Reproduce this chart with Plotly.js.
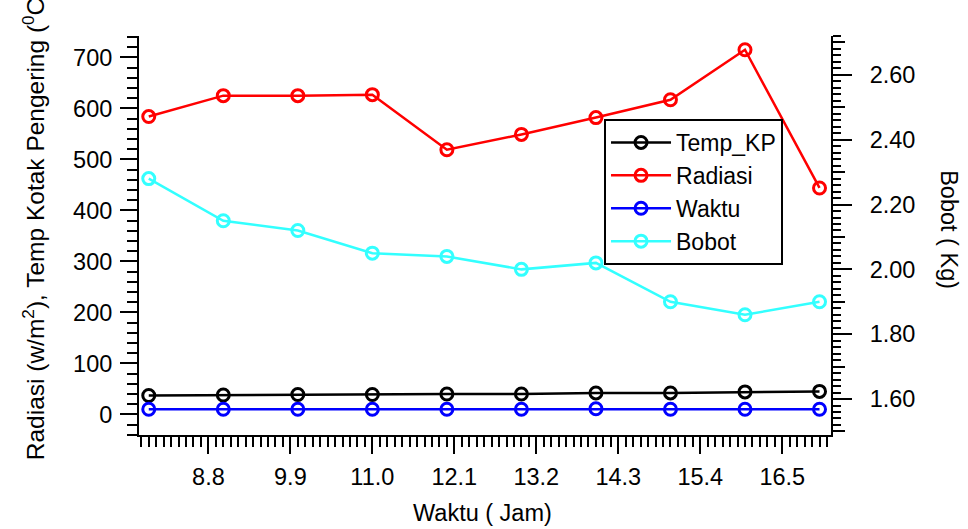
<!DOCTYPE html>
<html>
<head>
<meta charset="utf-8">
<script src="https://cdn.plot.ly/plotly-3.0.1.min.js"></script>
<style>html,body{margin:0;padding:0;background:#fff;}#chart{width:968px;height:529px;}</style>
</head>
<body>
<div id="chart"></div>
<script>
// Data
const waktu = [8, 9, 10, 11, 12, 13, 14, 15, 16, 17];
const tempKP = [37, 38, 39, 39, 40, 40, 42, 42, 44, 45];
const radiasi = [584, 625, 625, 627, 519, 549, 582, 617, 715, 444];
const waktuSeries = [10, 10, 10, 10, 10, 10, 11, 10, 10, 10];
const bobot = [2.28, 2.15, 2.12, 2.05, 2.04, 2.00, 2.02, 1.90, 1.86, 1.90];

const seriesNames = ['Temp_KP', 'Radiasi', 'Waktu', 'Bobot'];
const seriesColors = ['#000000', '#ff0000', '#0000ff', '#33ffff'];

const FONT = 'Liberation Sans, Arial, sans-serif';
const FS = 23.5;

function mk(y, i, axis) {
  return {
    x: waktu, y: y, name: seriesNames[i], yaxis: axis,
    type: 'scatter', mode: 'lines+markers',
    line: {color: seriesColors[i], width: 2.5},
    marker: {symbol: 'circle-open', size: 12, color: seriesColors[i], line: {width: 3, color: seriesColors[i]}},
    cliponaxis: false
  };
}

const traces = [
  mk(tempKP, 0, 'y'),
  mk(radiasi, 1, 'y'),
  mk(waktuSeries, 2, 'y'),
  mk(bobot, 3, 'y2'),
  {x: [], y: [], yaxis: 'y3', showlegend: false, hoverinfo: 'skip', type: 'scatter', mode: 'lines'}
];

const xRange = [7.869, 17.154];
const yRange = [-40.5, 742];
const y2Range = [1.489, 2.72];

const layout = {
  width: 968, height: 529,
  margin: {l: 139, r: 137, t: 36, b: 94, pad: 0},
  paper_bgcolor: '#fff', plot_bgcolor: '#fff',
  font: {family: FONT, size: FS, color: '#000'},
  showlegend: true,
  legend: {
    x: 0.672, y: 0.792, xanchor: 'left', yanchor: 'top',
    bordercolor: '#000', borderwidth: 2, bgcolor: '#fff',
    font: {family: FONT, size: 23, color: '#000'},
    itemwidth: 60, tracegroupgap: 0
  },
  xaxis: {
    range: xRange, tick0: 0, dtick: 1.1, tickformat: '.1f',
    ticks: 'outside', ticklen: 17, tickwidth: 2, tickcolor: '#000',
    showline: true, linewidth: 2, linecolor: '#000', mirror: false,
    showgrid: false, zeroline: false, ticklabelstandoff: 3,
    tickfont: {family: FONT, size: FS, color: '#000'},
    minor: {tick0: 0, dtick: 0.1, ticks: 'outside', ticklen: 10, tickwidth: 2, tickcolor: '#000', showgrid: false}
  },
  yaxis: {
    range: yRange, tick0: 0, dtick: 100,
    ticks: 'outside', ticklen: 17, tickwidth: 2, tickcolor: '#000',
    showline: true, linewidth: 2, linecolor: '#000',
    showgrid: false, zeroline: false, ticklabelstandoff: 3,
    tickfont: {family: FONT, size: FS, color: '#000'},
    minor: {tick0: 0, dtick: 20, ticks: 'outside', ticklen: 10, tickwidth: 2, tickcolor: '#000', showgrid: false}
  },
  yaxis2: {
    overlaying: 'y', side: 'right', anchor: 'x',
    range: y2Range, tick0: 0, dtick: 0.2, tickformat: '.2f',
    ticks: 'outside', ticklen: 19, tickwidth: 2, tickcolor: '#000',
    showline: true, linewidth: 2, linecolor: '#000',
    showgrid: false, zeroline: false, ticklabelstandoff: 13,
    tickfont: {family: FONT, size: FS, color: '#000'},
    minor: {tick0: 0, dtick: 0.02, ticks: 'outside', ticklen: 8, tickwidth: 2, tickcolor: '#000', showgrid: false}
  },
  yaxis3: {
    overlaying: 'y', side: 'right', anchor: 'x',
    range: y2Range, tick0: 0, dtick: 0.1,
    ticks: 'outside', ticklen: 13, tickwidth: 2, tickcolor: '#000',
    showline: false, showgrid: false, zeroline: false, showticklabels: false
  },
  annotations: [
    {text: 'Radiasi (w/m<sup>2</sup>), Temp Kotak Pengering (<sup>0</sup>C)',
     xref: 'paper', yref: 'paper', x: -0.153, y: 0.526, xanchor: 'center', yanchor: 'middle',
     textangle: -90, showarrow: false, font: {family: FONT, size: 24.5, color: '#000'}},
    {text: 'Bobot ( Kg)',
     xref: 'paper', yref: 'paper', x: 1.171, y: 0.515, xanchor: 'center', yanchor: 'middle',
     textangle: 90, showarrow: false, font: {family: FONT, size: FS, color: '#000'}},
    {text: 'Waktu ( Jam)',
     xref: 'paper', yref: 'paper', x: 0.497, y: -0.1955, xanchor: 'center', yanchor: 'middle',
     showarrow: false, font: {family: FONT, size: FS, color: '#000'}}
  ]
};

Plotly.newPlot('chart', traces, layout, {staticPlot: true, displayModeBar: false});
</script>
</body>
</html>
